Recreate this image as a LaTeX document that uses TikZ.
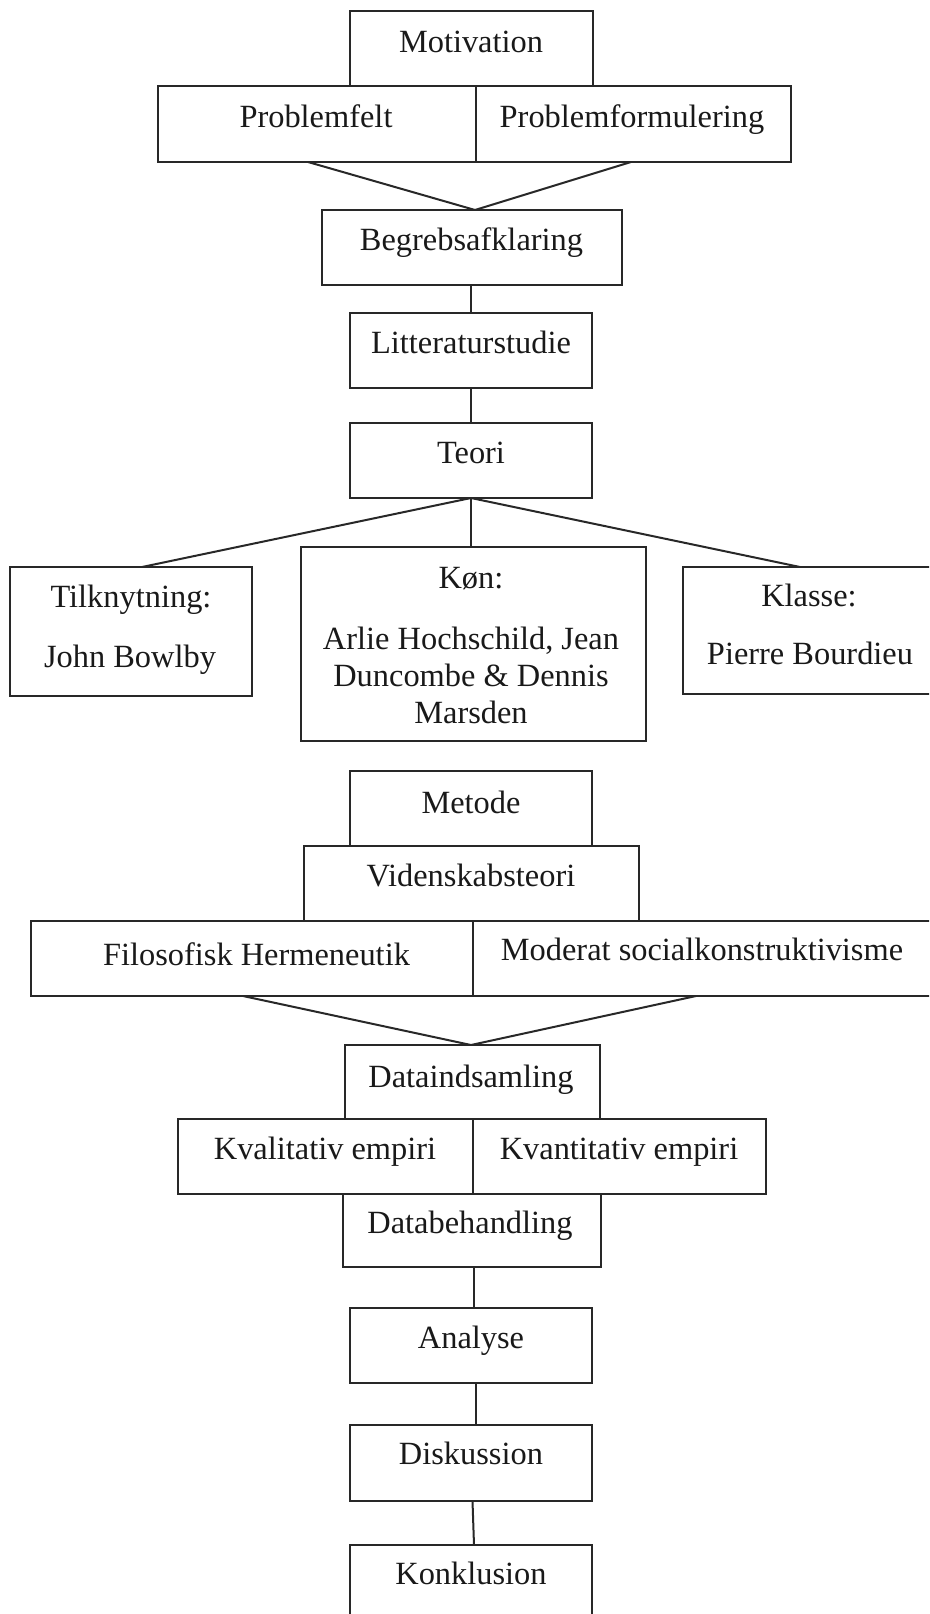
\documentclass[tikz,border=0pt]{standalone}
\usepackage{fontspec}
\setmainfont{Liberation Serif}
\definecolor{ln}{RGB}{40,40,40}
\definecolor{tx}{RGB}{25,25,25}
\tikzset{
  bx/.style n args={2}{draw=ln, line width=2.2pt, rectangle, inner sep=0pt, outer sep=0pt, minimum width=#1, minimum height=#2},
  lbl/.style={anchor=base, inner sep=0pt, text=tx, font=\fontsize{32.4pt}{38pt}\selectfont},
  con/.style={draw=ln, line width=2pt}
}
\begin{document}
\begin{tikzpicture}[x=1pt,y=-1pt]
\path[use as bounding box] (0,0) rectangle (929,1614);
\clip (0,0) rectangle (929,1614);

% --- top block ---
\node[bx={243pt}{75pt}] (mot) at (471.5,48.5) {};
\node[lbl] (motT) at (471,52) {Motivation};
\node[bx={318pt}{76pt}] (pf) at (317,124) {};
\node[lbl] (pfT) at (316,127) {Problemfelt};
\node[bx={315pt}{76pt}] (pform) at (633.5,124) {};
\node[lbl] (pformT) at (632,127) {Problemformulering};

\node[bx={300pt}{75pt}] (beg) at (472,247.5) {};
\node[lbl] (begT) at (471.5,250) {Begrebsafklaring};
\node[bx={242pt}{75pt}] (lit) at (471,350.5) {};
\node[lbl] (litT) at (471,353) {Litteraturstudie};
\node[bx={242pt}{75pt}] (teo) at (471,460.5) {};
\node[lbl] (teoT) at (471,463) {Teori};

% --- theory branches ---
\node[bx={242pt}{129pt}] (til) at (131,631.5) {};
\node[lbl] (tilT1) at (131,607) {Tilknytning:};
\node[lbl] (tilT2) at (130,667) {John Bowlby};
\node[bx={345pt}{194pt}] (kon) at (473.5,644) {};
\node[lbl] (konT1) at (471,588) {Køn:};
\node[lbl] (konT2) at (471,649) {Arlie Hochschild, Jean};
\node[lbl] (konT3) at (471,686) {Duncombe \& Dennis};
\node[lbl] (konT4) at (471,723) {Marsden};
\node[bx={254pt}{127pt}] (kla) at (810,630.5) {};
\node[lbl] (klaT1) at (809,606) {Klasse:};
\node[lbl] (klaT2) at (810,664) {Pierre Bourdieu};

% --- method block ---
\node[bx={242pt}{75pt}] (met) at (471,808.5) {};
\node[lbl] (metT) at (471,813) {Metode};
\node[bx={335pt}{75pt}] (vid) at (471.5,883.5) {};
\node[lbl] (vidT) at (471,886) {Videnskabsteori};
\node[bx={442pt}{75pt}] (fil) at (252,958.5) {};
\node[lbl] (filT) at (256.5,965) {Filosofisk Hermeneutik};
\node[bx={462pt}{75pt}] (mod) at (704,958.5) {};
\node[lbl] (modT) at (702,960) {Moderat socialkonstruktivisme};

\node[bx={255pt}{74pt}] (dat) at (472.5,1082) {};
\node[lbl] (datT) at (471,1087) {Dataindsamling};
\node[bx={295pt}{75pt}] (kval) at (325.5,1156.5) {};
\node[lbl] (kvalT) at (325,1159) {Kvalitativ empiri};
\node[bx={293pt}{75pt}] (kvan) at (619.5,1156.5) {};
\node[lbl] (kvanT) at (619,1159) {Kvantitativ empiri};
\node[bx={258pt}{73pt}] (dbh) at (472,1230.5) {};
\node[lbl] (dbhT) at (470,1233) {Databehandling};

\node[bx={242pt}{75pt}] (ana) at (471,1345.5) {};
\node[lbl] (anaT) at (471,1348) {Analyse};
\node[bx={242pt}{76pt}] (dis) at (471,1463) {};
\node[lbl] (disT) at (471,1464) {Diskussion};
\node[bx={242pt}{76pt}] (kko) at (471,1583) {};
\node[lbl] (kkoT) at (471,1584) {Konklusion};

% --- connectors ---
\draw[con] ([xshift=-9pt]pf.south) -- ([xshift=3pt]beg.north);
\draw[con] ([xshift=-2.5pt]pform.south) -- ([xshift=3pt]beg.north);
\draw[con] ([xshift=-1pt]beg.south) -- (lit.north);
\draw[con] (lit.south) -- (teo.north);
\draw[con] (teo.south) -- ([xshift=11pt]til.north);
\draw[con] (teo.south) -- ([xshift=-2.5pt]kon.north);
\draw[con] (teo.south) -- ([xshift=-10pt]kla.north);
\draw[con] ([xshift=-9pt]fil.south) -- ([xshift=-1.5pt]dat.north);
\draw[con] ([xshift=-8pt]mod.south) -- ([xshift=-1.5pt]dat.north);
\draw[con] ([xshift=2pt]dbh.south) -- ([xshift=3pt]ana.north);
\draw[con] ([xshift=5pt]ana.south) -- ([xshift=5pt]dis.north);
\draw[con] ([xshift=1.5pt]dis.south) -- ([xshift=3pt]kko.north);
\end{tikzpicture}
\end{document}
